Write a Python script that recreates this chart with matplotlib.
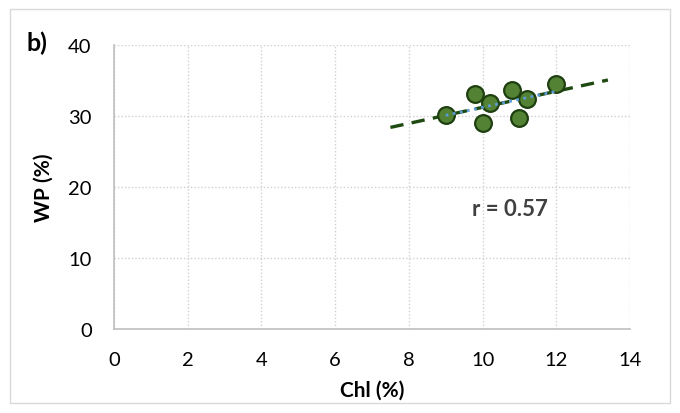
import numpy as np
import matplotlib
matplotlib.use('Agg')
import matplotlib.pyplot as plt
from matplotlib.patches import Rectangle

plt.rcParams['font.family'] = ['Lato', 'DejaVu Sans']

# data
chl = [9.0, 9.8, 10.0, 10.2, 10.8, 11.0, 11.2, 12.0]
wp = [30.1, 33.1, 29.0, 31.9, 33.6, 29.7, 32.4, 34.5]
x_ticks = [0, 2, 4, 6, 8, 10, 12, 14]
y_ticks = [0, 10, 20, 30, 40]
r_text = 'r = 0.57'

fig = plt.figure(figsize=(6.8, 4.14), dpi=100)
ax = fig.add_axes([0.1676, 0.2029, 0.7589, 0.686])

# chart border
fig.patches.append(Rectangle((10 / 680, 10 / 414), 660 / 680, 394 / 414,
                             transform=fig.transFigure, fill=False,
                             edgecolor='#D9D9D9', linewidth=1.0))

# linear fit, extended trendline + data-range trendline
slope, icpt = np.polyfit(chl, wp, 1)
xe = np.array([min(chl) - 1.5, max(chl) + 1.4])
ax.plot(xe, slope * xe + icpt, color='#1E4A12', lw=2.4, ls=(0, (4, 2.5)),
        zorder=2, dash_capstyle='butt')

ax.scatter(chl, wp, s=145, color='#548235', edgecolor='#1E3F0F',
           linewidths=1.6, zorder=3)

xr = np.array([min(chl), max(chl)])
ax.plot(xr, slope * xr + icpt, color='#5B9BD5', lw=2.0, ls=(0, (1, 1.6)),
        zorder=4)

ax.text(10.75, 17.0, r_text, ha='center', va='center', fontsize=16,
        fontweight='bold', color='#404040')

ax.set_xlim(0, 14)
ax.set_ylim(0, 40)
ax.set_xticks(x_ticks)
ax.set_yticks(y_ticks)
ax.tick_params(length=0, labelsize=14.5, colors='black')
ax.tick_params(axis='x', pad=16)
ax.tick_params(axis='y', pad=16)
ax.grid(True, color='#D0D0D0', ls=(0, (1, 1.5)), lw=1.0)
ax.set_axisbelow(True)
for s in ['top', 'right']:
    ax.spines[s].set_visible(False)
for s in ['left', 'bottom']:
    ax.spines[s].set_color('#BFBFBF')
    ax.spines[s].set_linewidth(1.2)

fig.text(372 / 680, 1 - 391 / 414, 'Chl (%)', fontsize=15, fontweight='bold',
         ha='center', va='center')
fig.text(44 / 680, 1 - 188 / 414, 'WP (%)', fontsize=15, fontweight='bold',
         ha='center', va='center', rotation=90)

fig.text(27 / 680, 1 - 43 / 414, 'b)', fontsize=18, fontweight='bold',
         ha='left', va='center')

fig.savefig('out.png', dpi=100)
